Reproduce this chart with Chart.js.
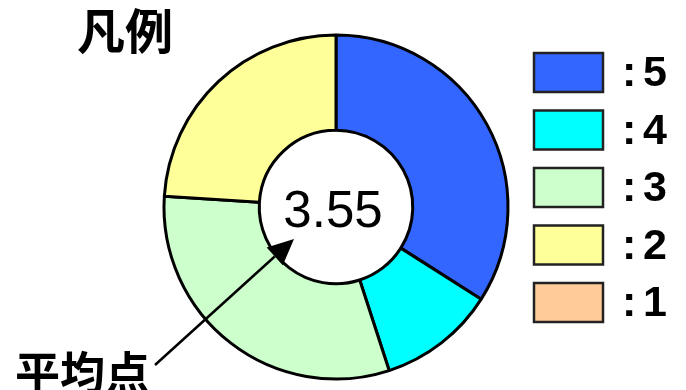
<!DOCTYPE html>
<html>
<head>
<meta charset="utf-8">
<script src="https://cdn.jsdelivr.net/npm/chart.js@4/dist/chart.umd.min.js"></script>
<style>
  html, body { margin: 0; padding: 0; background: #ffffff; }
  #wrap { width: 686px; height: 390px; position: relative; }
</style>
</head>
<body>
<div id="wrap"><canvas id="c" width="686" height="390"></canvas></div>
<script>
// ---- data ----
const scores = ['5', '4', '3', '2', '1'];
const counts = [34, 11, 31, 24, 0];
const colors = ['#3366FF', '#00FFFF', '#CCFFCC', '#FFFF99', '#FFCC99'];
const titleText = '凡例';
const arrowText = '平均点';

const total = counts.reduce((a, b) => a + b, 0);
const mean = counts.reduce((s, c, i) => s + c * Number(scores[i]), 0) / total;

const overlay = {
  id: 'overlay',
  afterDraw(chart) {
    const ctx = chart.ctx;
    const arc = chart.getDatasetMeta(0).data[0];
    const cx = arc.x, cy = arc.y;
    ctx.save();
    // title
    ctx.fillStyle = '#000';
    ctx.font = 'bold 48px "Noto Sans CJK JP"';
    ctx.textBaseline = 'middle';
    ctx.textAlign = 'left';
    ctx.fillText(titleText, 77, 31);
    // mean value
    ctx.font = '51px "Liberation Sans", Arial, sans-serif';
    ctx.textBaseline = 'alphabetic';
    ctx.textAlign = 'center';
    ctx.fillText(mean.toFixed(2), cx - 3, cy + 20);
    // arrow
    const sx = cx - 181, sy = cy + 158, tx = cx - 42, ty = cy + 32;
    const ang = Math.atan2(ty - sy, tx - sx);
    const hl = 26, hw = 12;
    const bx = tx - hl * Math.cos(ang), by = ty - hl * Math.sin(ang);
    ctx.strokeStyle = '#000';
    ctx.lineWidth = 2.5;
    ctx.beginPath();
    ctx.moveTo(sx, sy);
    ctx.lineTo(bx, by);
    ctx.stroke();
    ctx.beginPath();
    ctx.moveTo(tx, ty);
    ctx.lineTo(bx + hw * Math.sin(ang), by - hw * Math.cos(ang));
    ctx.lineTo(bx - hw * Math.sin(ang), by + hw * Math.cos(ang));
    ctx.closePath();
    ctx.fillStyle = '#000';
    ctx.fill();
    // arrow label
    ctx.font = 'bold 45px "Noto Sans CJK JP"';
    ctx.textAlign = 'left';
    ctx.textBaseline = 'middle';
    ctx.fillText(arrowText, 15, 373);
    // legend
    const ds = chart.data.datasets[0];
    chart.data.labels.forEach((lab, i) => {
      const y = 53 + i * 57.5;
      ctx.fillStyle = ds.backgroundColor[i];
      ctx.fillRect(534, y, 69, 39);
      ctx.strokeStyle = '#222';
      ctx.lineWidth = 2.5;
      ctx.strokeRect(534, y, 69, 39);
      ctx.fillStyle = '#000';
      ctx.font = 'bold 43px "Liberation Sans", Arial, sans-serif';
      ctx.textBaseline = 'alphabetic';
      ctx.textAlign = 'left';
      ctx.fillText(':', 622, y + 33);
      ctx.fillText(lab, 643, y + 33);
    });
    ctx.restore();
  }
};

new Chart(document.getElementById('c'), {
  type: 'doughnut',
  data: {
    labels: scores,
    datasets: [{
      data: counts,
      backgroundColor: colors,
      borderColor: '#000',
      borderWidth: 3,
      borderAlign: 'center'
    }]
  },
  options: {
    responsive: false,
    animation: false,
    radius: 172,
    cutout: 81,
    layout: { padding: { left: 0, right: 14, top: 24, bottom: 0 } },
    plugins: {
      legend: { display: false },
      tooltip: { enabled: false },
      title: { display: false }
    }
  },
  plugins: [overlay]
});
</script>
</body>
</html>
